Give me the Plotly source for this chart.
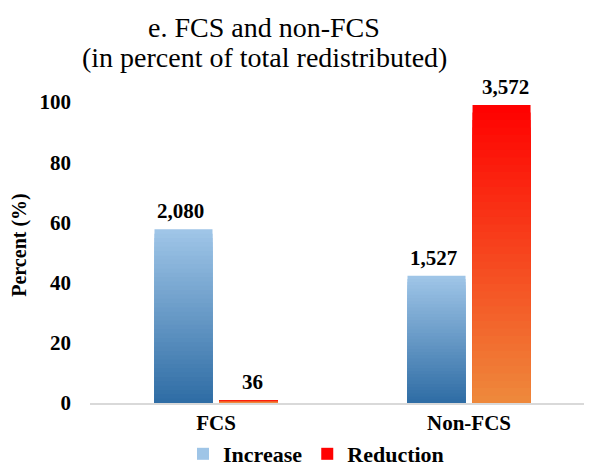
import plotly.graph_objects as go

# ---- data ----
categories = ["FCS", "Non-FCS"]
increase_pct = [57.7, 42.3]
reduction_pct = [1.0, 99.0]
increase_labels = ["2,080", "1,527"]
reduction_labels = ["36", "3,572"]
y_ticks = [0, 20, 40, 60, 80, 100]
title_lines = ["e. FCS and non-FCS", "(in percent of total redistributed)"]

FONT = "Liberation Serif"
W, H = 584, 460          # page body adds an 8px margin
L, T, B = 82, 79, 65
PW, PH = W - L, H - T - B

def lerp(c1, c2, t):
    return "rgb(%d,%d,%d)" % tuple(round(a + (b - a) * t) for a, b in zip(c1, c2))

series = [
    ("Increase", increase_pct, increase_labels, (46, 108, 164), (160, 198, 232), -36),
    ("Reduction", reduction_pct, reduction_labels, (238, 138, 60), (255, 0, 0), 36),
]

fig = go.Figure()
N = 40
for name, vals, labels, bottom, top, dx in series:
    for k in range(N, 0, -1):
        f = k / N
        fig.add_trace(go.Bar(
            x=categories,
            y=[v * f for v in vals],
            name=name,
            offsetgroup=name,
            legendgroup=name,
            showlegend=(k == N),
            marker=dict(color=lerp(bottom, top, (k - 0.5) / N), line=dict(width=0)),
            hoverinfo="skip",
        ))
    for c, v, lab in zip(categories, vals, labels):
        fig.add_annotation(
            x=c, y=v, text=lab, xref="x", yref="y",
            xanchor="center", yanchor="bottom", xshift=dx, yshift=4,
            showarrow=False,
            font=dict(family=FONT, size=21, color="black", weight="bold"),
        )

fig.update_layout(
    width=W, height=H,
    paper_bgcolor="white", plot_bgcolor="white",
    margin=dict(l=L, r=0, t=T, b=B, autoexpand=False),
    barmode="group",
    bargap=0.486, bargroupgap=0.108,
    font=dict(family=FONT, color="black"),
    legend=dict(
        orientation="h", x=175 / W, xanchor="left", xref="container",
        y=14 / H, yanchor="middle", yref="container",
        font=dict(family=FONT, size=22, color="black", weight="bold"),
        itemwidth=30, traceorder="normal",
    ),
    showlegend=True,
)
for line, ypx in zip(title_lines, [20, 50]):
    fig.add_annotation(
        text=line, xref="paper", yref="paper",
        x=(256 - L) / PW, y=(H - B - ypx) / PH,
        xanchor="center", yanchor="middle", showarrow=False,
        font=dict(family=FONT, size=28, color="black"),
    )
fig.update_xaxes(
    range=[-0.498, 1.486], showline=True, linecolor="#d9d9d9", linewidth=2,
    ticks="",
    tickfont=dict(family=FONT, size=21, color="black", weight="bold"),
    showgrid=False,
)
fig.update_yaxes(
    range=[0, 105], tickvals=y_ticks, showgrid=False, zeroline=False, showline=False,
    ticks="", ticklabelstandoff=18,
    tickfont=dict(family=FONT, size=21, color="black", weight="bold"),
    title=dict(text="Percent (%)", font=dict(family=FONT, size=20, color="black", weight="bold"), standoff=10),
)

fig.write_html("out.html")
